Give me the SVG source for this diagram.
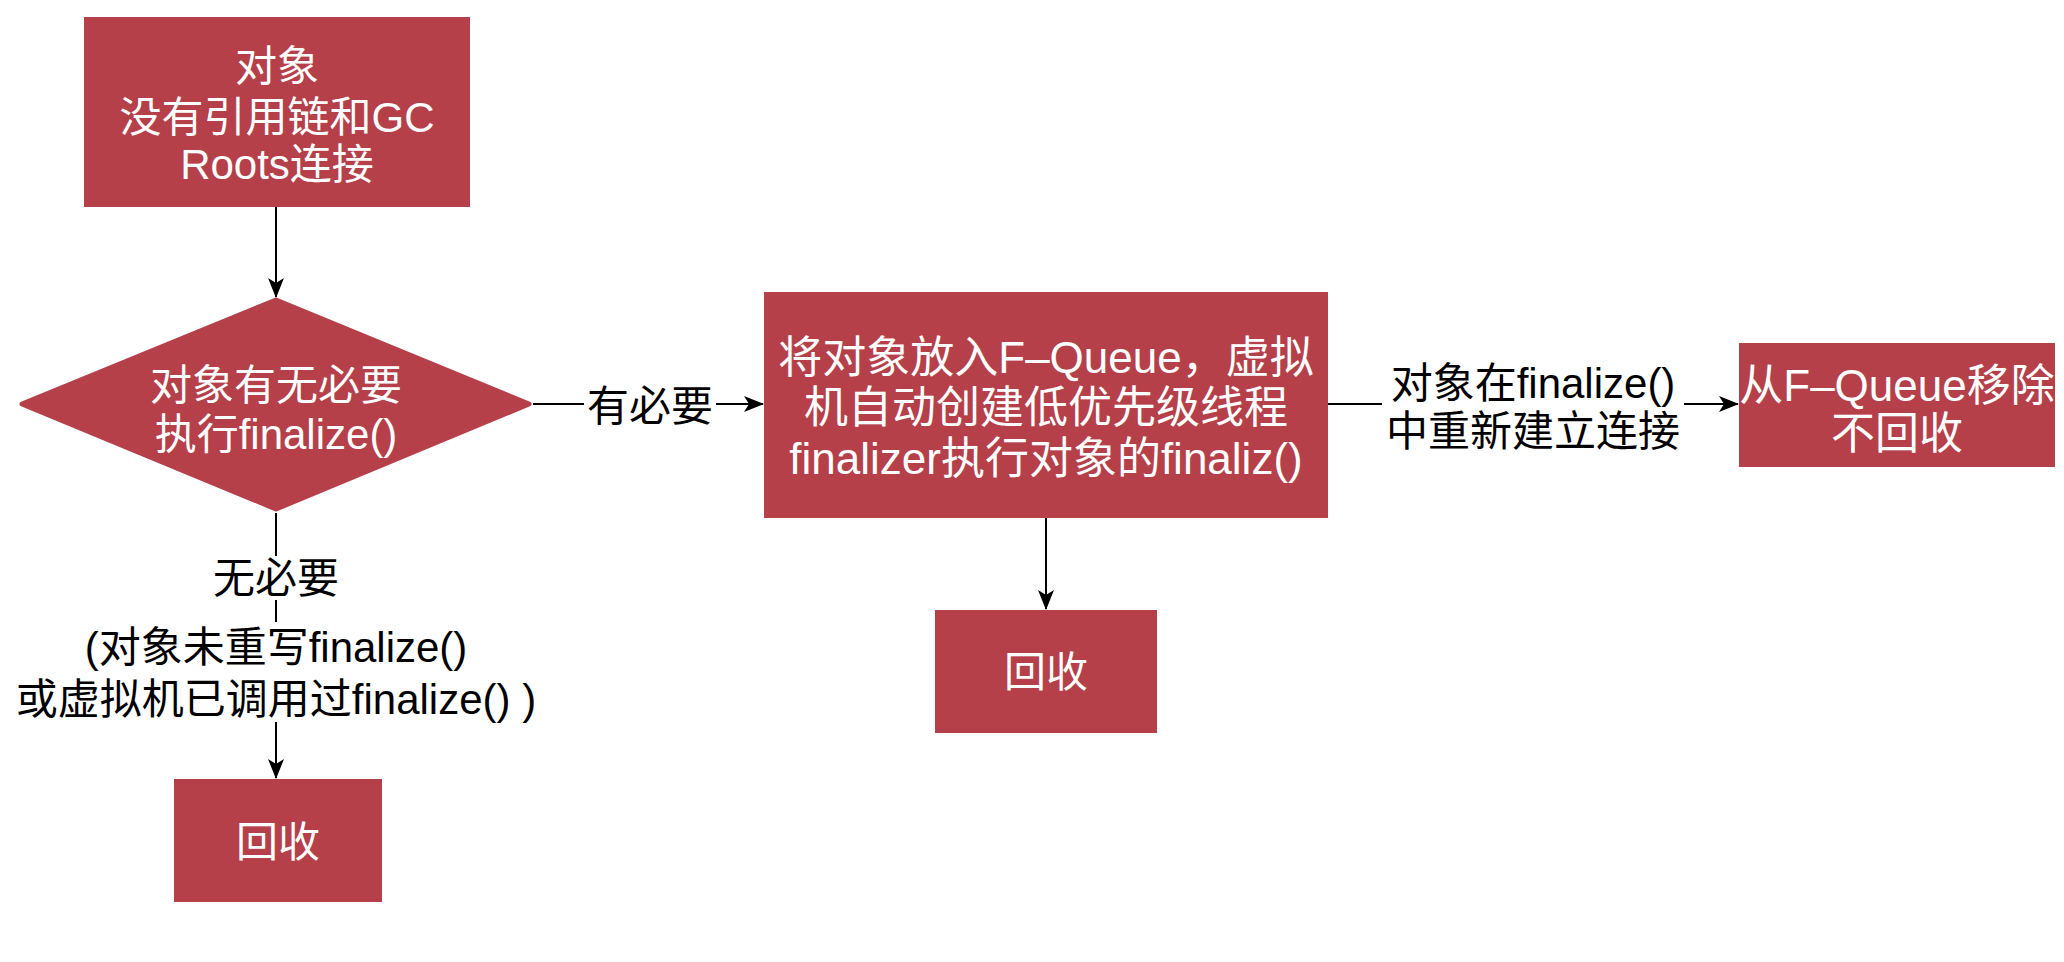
<svg xmlns="http://www.w3.org/2000/svg" width="2064" height="962" viewBox="0 0 2064 962">
<defs>
<style>
.node{fill:#B5404A;}
.wt{fill:#ffffff;font-family:"Liberation Sans","Noto Sans CJK SC",sans-serif;text-anchor:middle;dominant-baseline:central;}
.bt{fill:#000000;font-family:"Liberation Sans","Noto Sans CJK SC",sans-serif;text-anchor:middle;dominant-baseline:central;}
.edge{stroke:#000;stroke-width:2;fill:none;}
.lbg{fill:#ffffff;}
</style>
<marker id="arr" viewBox="0 0 20 16" refX="19" refY="8" markerWidth="20" markerHeight="16" markerUnits="userSpaceOnUse" orient="auto">
<path d="M0,0 L20,8 L0,16 L5,8 Z" fill="#000"/>
</marker>
</defs>
<rect width="2064" height="962" fill="#ffffff"/>
<g id="connectors">
<line class="edge" x1="276" y1="207" x2="276" y2="297" marker-end="url(#arr)"/>
<line class="edge" x1="276" y1="513" x2="276" y2="778" marker-end="url(#arr)"/>
<line class="edge" x1="533" y1="404" x2="763" y2="404" marker-end="url(#arr)"/>
<line class="edge" x1="1046" y1="518" x2="1046" y2="609" marker-end="url(#arr)"/>
<line class="edge" x1="1328" y1="404" x2="1738" y2="404" marker-end="url(#arr)"/>
<g id="label-need">
<rect class="lbg" x="584" y="384" width="132" height="44"/>
<text class="bt" x="650" y="406" font-size="42">有必要</text>
</g>
<g id="label-noneed">
<rect class="lbg" x="210" y="556" width="132" height="44"/>
<text class="bt" x="276" y="578" font-size="42">无必要</text>
</g>
<g id="label-reason">
<rect class="lbg" x="2" y="622" width="548" height="100"/>
<text class="bt" x="276" y="647" font-size="42">(对象未重写finalize()</text>
<text class="bt" x="276" y="699" font-size="42">或虚拟机已调用过finalize() )</text>
</g>
<g id="label-reconnect">
<rect class="lbg" x="1382" y="358" width="302" height="98"/>
<text class="bt" x="1533" y="383" font-size="42">对象在finalize()</text>
<text class="bt" x="1533" y="431" font-size="42">中重新建立连接</text>
</g>
</g>
<g id="node-start">
<rect class="node" x="84" y="17" width="386" height="190"/>
<text class="wt" x="277" y="66" font-size="42">对象</text>
<text class="wt" x="277" y="117" font-size="42">没有引用链和GC</text>
<text class="wt" x="277" y="164" font-size="42">Roots连接</text>
</g>
<g id="node-decision">
<path class="node" d="M276,300 L529,404 L276,509 L22,404 Z" stroke="#B5404A" stroke-width="5" stroke-linejoin="round"/>
<text class="wt" x="276" y="385" font-size="42">对象有无必要</text>
<text class="wt" x="276" y="434" font-size="42">执行finalize()</text>
</g>
<g id="node-fqueue">
<rect class="node" x="764" y="292" width="564" height="226"/>
<text class="wt" x="1046" y="357" font-size="44">将对象放入F–Queue，虚拟</text>
<text class="wt" x="1046" y="407" font-size="44">机自动创建低优先级线程</text>
<text class="wt" x="1046" y="458" font-size="44">finalizer执行对象的finaliz()</text>
</g>
<g id="node-remove">
<rect class="node" x="1739" y="343" width="316" height="124"/>
<text class="wt" x="1897" y="385" font-size="44">从F–Queue移除</text>
<text class="wt" x="1897" y="433" font-size="44">不回收</text>
</g>
<g id="node-reclaim1">
<rect class="node" x="174" y="779" width="208" height="123"/>
<text class="wt" x="278" y="842" font-size="42">回收</text>
</g>
<g id="node-reclaim2">
<rect class="node" x="935" y="610" width="222" height="123"/>
<text class="wt" x="1046" y="672" font-size="42">回收</text>
</g>
</svg>
